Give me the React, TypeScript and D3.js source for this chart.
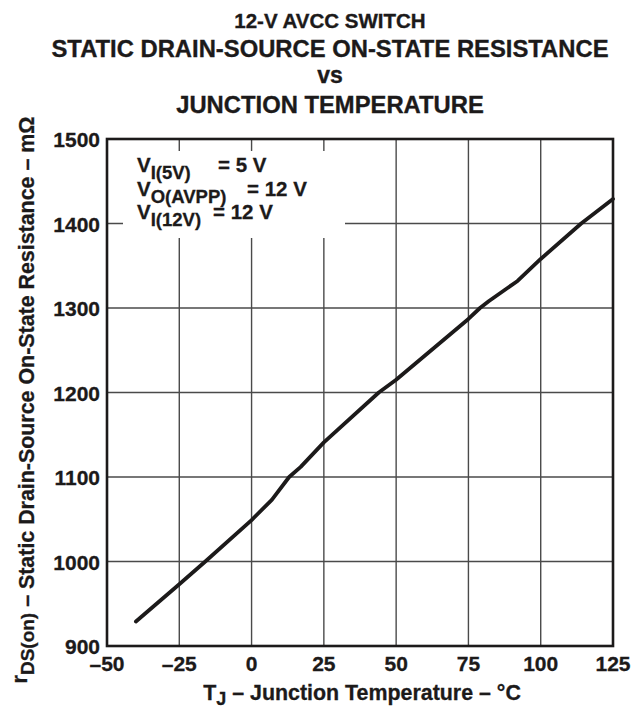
import React from "react";
import * as d3 from "d3";

const temps = [-40, -25, -16, 0, 7, 13, 17, 25, 44, 50, 75, 79, 82, 92, 100, 114, 125];
const resistance = [929, 973, 1000, 1049, 1073, 1100, 1112, 1141, 1200, 1215, 1287, 1300, 1308, 1332, 1358, 1400, 1429];

const xTicks = [-50, -25, 0, 25, 50, 75, 100, 125];
const yTicks = [900, 1000, 1100, 1200, 1300, 1400, 1500];
const titleLines = ["12-V AVCC SWITCH", "STATIC DRAIN-SOURCE ON-STATE RESISTANCE", "vs", "JUNCTION TEMPERATURE"];
const legendLines = [
  { main: "V", sub: "I(5V)", rest: "= 5 V" },
  { main: "V", sub: "O(AVPP)", rest: "= 12 V" },
  { main: "V", sub: "I(12V)", rest: "= 12 V" },
];

const W = 635;
const H = 709;
const L = 107, R = 613, T = 139, B = 646;
const FONT = "'Liberation Sans', Arial, Helvetica, sans-serif";
const INK = "#1c1a1a";

export default function App() {
  const x = d3.scaleLinear().domain([-50, 125]).range([L, R]);
  const y = d3.scaleLinear().domain([900, 1500]).range([B, T]);
  const pts = temps.map((t, i) => [t, resistance[i]] as [number, number]);
  const line = d3.line<[number, number]>().x(d => x(d[0])).y(d => y(d[1]));

  const titleY = [28, 57, 83, 113];
  const titleSize = [20.5, 23.8, 23, 23.8];
  const legX = [218, 247, 213];
  const legY = [172, 196, 219];

  return (
    <svg width={W} height={H} style={{ position: "absolute", left: 0, top: 0, background: "#fff" }} fontFamily={FONT} fontWeight="bold">
      <rect width={W} height={H} fill="#fff" />
      <g stroke={INK} strokeWidth={0.35} fill={INK}>
        {titleLines.map((t, i) => (
          <text key={i} x={330} y={titleY[i]} textAnchor="middle" fontSize={titleSize[i]}>{t}</text>
        ))}
      </g>
      {/* grid */}
      {xTicks.slice(1, -1).map(t => (
        <line key={"gx" + t} x1={x(t)} x2={x(t)} y1={T} y2={B} stroke="#4a4a4a" strokeWidth={1.4} />
      ))}
      {yTicks.slice(1, -1).map(t => (
        <line key={"gy" + t} x1={L} x2={R} y1={y(t)} y2={y(t)} stroke="#4a4a4a" strokeWidth={1.4} />
      ))}
      {/* legend box */}
      <rect x={123} y={151} width={222} height={87} fill="#fff" />
      <g stroke={INK} strokeWidth={0.3} fill={INK}>
        {legendLines.map((l, i) => (
          <g key={"lg" + i}>
            <text x={137} y={legY[i]} fontSize={20.5}>
              {l.main}
              <tspan dy={7} fontSize={18.5}>{l.sub}</tspan>
            </text>
            <text x={legX[i]} y={legY[i]} fontSize={20.5}>{l.rest}</text>
          </g>
        ))}
      </g>
      {/* curve */}
      <path d={line(pts) || ""} fill="none" stroke={INK} strokeWidth={3.8} strokeLinecap="round" strokeLinejoin="round" />
      {/* frame */}
      <rect x={L} y={T} width={R - L} height={B - T} fill="none" stroke={INK} strokeWidth={2.6} />
      <g stroke={INK} strokeWidth={0.3} fill={INK}>
        {/* tick labels */}
        {yTicks.map(t => (
          <text key={"yl" + t} x={100} y={y(t) + 8} textAnchor="end" fontSize={21}>{t}</text>
        ))}
        {xTicks.map(t => (
          <text key={"xl" + t} x={x(t)} y={671} textAnchor="middle" fontSize={21}>{t < 0 ? "\u2013" + Math.abs(t) : t}</text>
        ))}
        {/* axis titles */}
        <text x={362} y={700} textAnchor="middle" fontSize={21.4}>
          T<tspan dy={5} fontSize={18}>J</tspan><tspan dy={-5}> – Junction Temperature – °C</tspan>
        </text>
        <text transform="translate(34,400) rotate(-90)" textAnchor="middle" fontSize={21.4}>
          <tspan dy={-7}>r</tspan><tspan dy={7} fontSize={19}>DS(on)</tspan><tspan> – Static Drain-Source On-State Resistance – mΩ</tspan>
        </text>
      </g>
    </svg>
  );
}
